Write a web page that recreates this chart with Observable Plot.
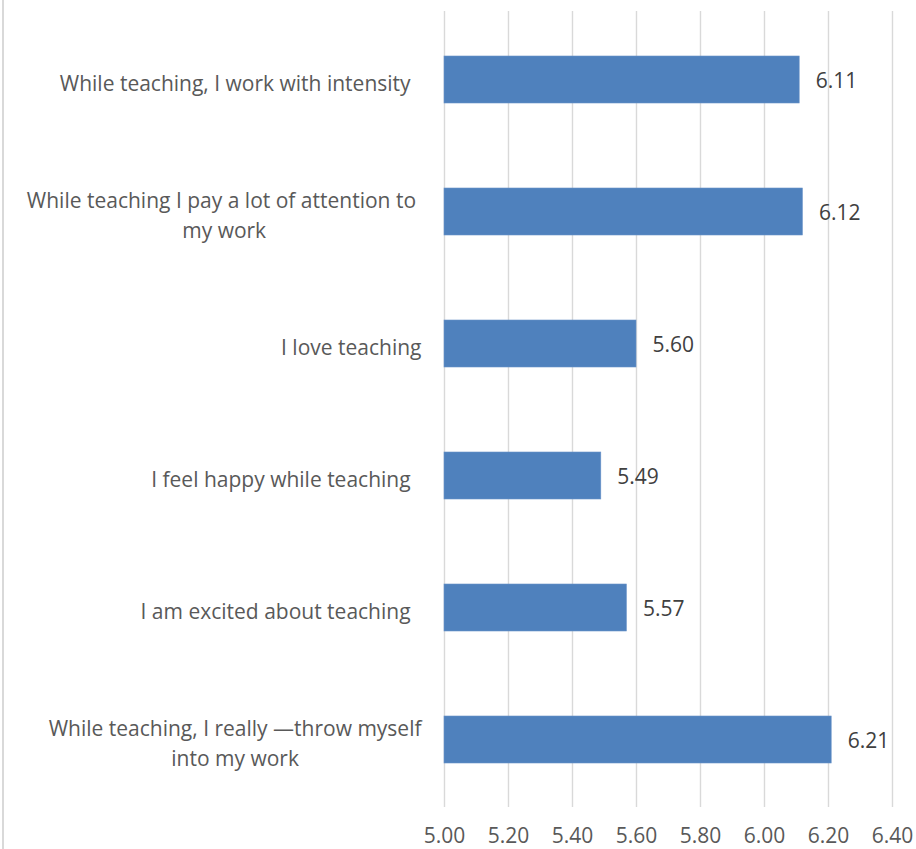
<!DOCTYPE html>
<html><head><meta charset="utf-8">
<script src="https://cdn.jsdelivr.net/npm/d3@7"></script>
<script src="https://cdn.jsdelivr.net/npm/@observablehq/plot@0.6"></script>
<style>
html,body{margin:0;padding:0;background:#fff;}
#wrap{position:relative;width:916px;height:849px;overflow:hidden;}
#wrap::before{content:"";position:absolute;left:2px;top:0;bottom:0;width:2px;background:#d9d9d9;}
</style></head><body><div id="wrap"></div>
<script>
const categories = [
  "While teaching, I work with intensity\u00a0\u00a0",
  "While teaching I pay a lot of attention to\u00a0\nmy work",
  "I love teaching",
  "I feel happy while teaching\u00a0\u00a0",
  "I am excited about teaching\u00a0\u00a0",
  "While teaching, I really \u2014throw myself\ninto my work"
];
const values = [6.11, 6.12, 5.60, 5.49, 5.57, 6.21];
const xTicks = [5.00, 5.20, 5.40, 5.60, 5.80, 6.00, 6.20, 6.40];

const data = categories.map((c, i) => ({category: c, value: values[i]}));
const fmt = d3.format(".2f");
const FONT = "Open Sans";
const FS = 21;

const ctx = document.createElement("canvas").getContext("2d");
ctx.font = `${FS}px "${FONT}"`;
const labelGap = 23;

const labelMarks = categories.map(c => {
  const w = d3.max(c.split("\n"), line => ctx.measureText(line).width);
  return Plot.text([c], {
    y: d => d, frameAnchor: "left", text: d => d,
    textAnchor: "middle", lineAnchor: "middle", lineHeight: 1.43,
    dx: -(labelGap + w / 2), dy: 1, fontSize: FS, fill: "#595959"
  });
});

const chart = Plot.plot({
  width: 916, height: 849,
  marginLeft: 444, marginRight: 24, marginTop: 11, marginBottom: 42,
  style: {fontFamily: FONT, fontSize: FS + "px", color: "#595959", background: "transparent"},
  x: {domain: [xTicks[0], xTicks[xTicks.length - 1]], label: null},
  y: {domain: categories, paddingInner: 0.646, paddingOuter: 0.323, axis: null},
  marks: [
    Plot.ruleX(xTicks, {stroke: "#d9d9d9", strokeWidth: 1.4}),
    Plot.barX(data, {x1: xTicks[0], x2: "value", y: "category", fill: "#4f81bd", stroke: "#6a93c8", strokeWidth: 0.6}),
    Plot.text(data, {x: "value", y: "category", text: d => fmt(d.value), dx: 16, dy: 1.5, textAnchor: "start", fill: "#404040", fontSize: FS}),
    Plot.axisX(xTicks, {tickSize: 0, tickPadding: 21, tickFormat: fmt, fontSize: FS, fill: "#595959", label: null}),
    ...labelMarks
  ]
});
document.getElementById("wrap").appendChild(chart);
</script>
</body></html>
